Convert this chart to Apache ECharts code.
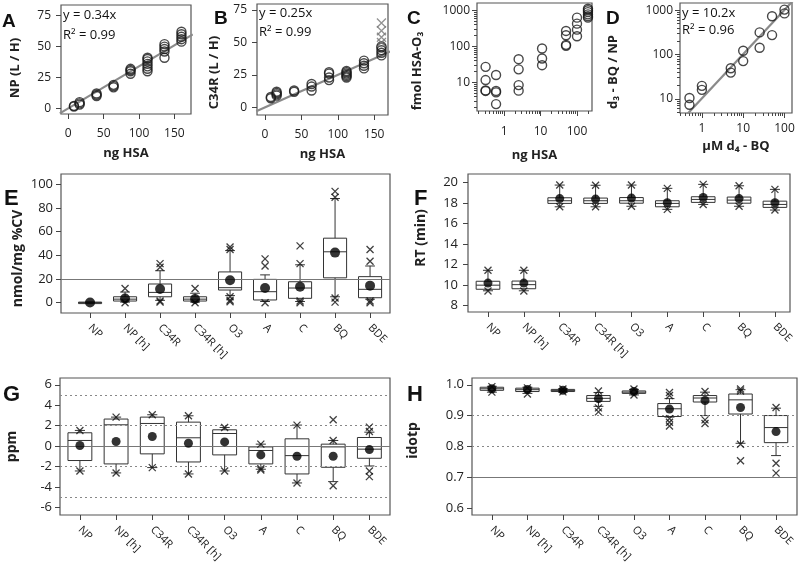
<!DOCTYPE html>
<html><head><meta charset="utf-8">
<script src="https://cdn.jsdelivr.net/npm/echarts@6/dist/echarts.min.js"></script>
<style>html,body{margin:0;padding:0;background:#fff}#c{width:800px;height:570px}</style>
</head><body><div id="c"></div>
<script>
// ---------- DATA ----------
// Panel A
const aX = [8, 16, 40, 64, 88, 112, 136, 160];
const aY = [[1.5, 2], [3, 4, 5], [10, 11, 12], [17, 18, 19], [28, 30, 31, 32], [30, 32, 34, 36, 38, 40, 41], [41, 46, 48, 50, 52], [54, 56, 58, 60, 62]];
const aSlope = 0.34, aR2 = 0.99;
const aFitX = [-12, 176];
const aXTicks = [0, 50, 100, 150], aYTicks = [0, 25, 50, 75];
// Panel B
const bX = [8, 16, 40, 64, 88, 112, 136, 160];
const bY = [[7, 8], [9, 10, 11, 12], [12, 13], [13, 16, 18], [21, 23, 26, 27], [23, 24, 25, 26, 27, 28], [30, 32, 34, 36], [40, 42, 44, 46, 47]];
const bOutX = [160, 160, 160, 160];
const bOutY = [65, 59, 54, 50];
const bSlope = 0.25, bR2 = 0.99;
const bFitX = [-12, 172];
const bXTicks = [0, 50, 100, 150], bYTicks = [0, 25, 50, 75];
// Panel C
const cX = [0.31, 0.6, 2.5, 11, 50, 100, 200];
const cY = [[27, 11.6, 6, 5.8], [16, 5.8, 5.3, 2.5], [44, 23, 8.4, 5.9], [87, 46, 30], [267, 203, 110, 103], [624, 426, 290, 190], [1100, 1000, 890, 770, 680, 624]];
const cXTicks = [1, 10, 100], cYTicks = [10, 100, 1000];
// Panel D
const dX = [0.5, 1, 5, 10, 25, 50, 100];
const dY = [[10.4, 7.3], [19.6, 15.9], [49, 39], [122, 71], [316, 142], [733, 275], [1035, 850]];
const dSlope = 10.2, dR2 = 0.96;
const dFitX = [0.3, 160];
const dXTicks = [1, 10, 100], dYTicks = [10, 100, 1000];
// Box panels
const cats = ['NP', 'NP [h]', 'C34R', 'C34R [h]', 'O3', 'A', 'C', 'BQ', 'BDE'];
// Panel E : nmol/mg %CV
const eLow  = [0, 0.5, 2, 0.5, 6, 1, 1, 5, 3];
const eQ1   = [0, 1.4, 5, 1.4, 10.7, 2.3, 3.7, 21, 4.2];
const eMed  = [0.1, 3, 8.7, 3, 12.7, 9.3, 12.4, 43, 11.3];
const eQ3   = [0.5, 5, 15.8, 5, 26, 19.7, 17.7, 54.5, 22];
const eHigh = [0.6, 9, 27, 8, 44, 23.5, 32, 88, 31];
const eMean = [0.2, 3.6, 11.5, 3.2, 19, 12.4, 13.5, 42.3, 14.4];
const eOut  = [[], [12, 0], [33, 30, 1.5, 0.5], [12, 0], [47, 45, 5, 2, 0.8], [37, 31, 0], [48, 33, 1.5, 0], [94, 89, 4, 0.5], [45, 35, 1.5, 0]];
const eRef  = [20];
const eYTicks = [0, 20, 40, 60, 80, 100];
// Panel F : RT (min)
const fLow  = [9.45, 9.45, 17.65, 17.65, 17.7, 17.4, 17.88, 17.7, 17.33];
const fQ1   = [9.6, 9.65, 17.98, 17.98, 18.0, 17.65, 18.08, 18.0, 17.59];
const fMed  = [10.0, 10.05, 18.24, 18.24, 18.24, 17.98, 18.37, 18.3, 17.88];
const fQ3   = [10.38, 10.4, 18.53, 18.5, 18.55, 18.24, 18.63, 18.6, 18.2];
const fHigh = [11.45, 11.45, 19.77, 19.75, 19.77, 19.45, 19.84, 19.7, 19.35];
const fMean = [10.2, 10.2, 18.45, 18.4, 18.5, 18.05, 18.56, 18.45, 18.04];
const fOut  = [[11.45, 9.43], [11.45, 9.43], [19.77, 17.65], [19.75, 17.65], [19.77, 17.7], [19.45, 17.4], [19.84, 17.88], [19.7, 17.7], [19.35, 17.33]];
const fYTicks = [8, 10, 12, 14, 16, 18, 20];
// Panel G : ppm
const gLow  = [-2.42, -2.61, -2.09, -2.71, -2.42, -2.25, -3.59, -3.46, -1.93];
const gQ1   = [-1.4, -1.73, -0.75, -1.54, -0.85, -1.73, -2.71, -2.06, -1.18];
const gMed  = [0.56, 2.09, 2.22, 0.82, 1.24, -0.42, -0.92, -0.07, -0.29];
const gQ3   = [1.31, 2.65, 2.84, 2.35, 1.6, -0.07, 0.72, 0.2, 0.85];
const gHigh = [1.54, 2.84, 3.07, 2.97, 1.83, 0.2, 2.06, 0.56, 1.37];
const gMean = [0.07, 0.46, 0.95, 0.29, 0.42, -0.85, -0.98, -0.98, -0.33];
const gOut  = [[1.54, -2.42], [2.84, -2.61], [3.07, -2.09], [2.97, -2.71], [1.83, -2.42], [0.2, -2.19, -2.32], [2.06, -3.59], [2.58, 0.56, -3.86], [1.86, 1.44, -2.42, -2.97]];
const gRefSolid = [0], gRefDotted = [5, 2, -2, -5];
const gYTicks = [-6, -4, -2, 0, 2, 4, 6];
// Panel H : idotp
const hLow  = [0.976, 0.972, 0.976, 0.93, 0.967, 0.895, 0.90, 0.81, 0.77];
const hQ1   = [0.982, 0.978, 0.978, 0.946, 0.972, 0.897, 0.944, 0.905, 0.812];
const hMed  = [0.987, 0.984, 0.981, 0.956, 0.976, 0.922, 0.957, 0.951, 0.861];
const hQ3   = [0.992, 0.989, 0.985, 0.965, 0.98, 0.939, 0.965, 0.97, 0.90];
const hHigh = [0.995, 0.992, 0.987, 0.975, 0.985, 0.955, 0.976, 0.984, 0.924];
const hMean = [0.987, 0.985, 0.982, 0.955, 0.978, 0.921, 0.949, 0.926, 0.848];
const hOut  = [[0.994, 0.976], [0.99, 0.97], [0.986, 0.977], [0.98, 0.925, 0.912], [0.986, 0.967], [0.975, 0.965, 0.89, 0.878, 0.866], [0.978, 0.886, 0.874], [0.986, 0.98, 0.807, 0.753], [0.926, 0.745, 0.713]];
const hRefSolid = [0.7], hRefDotted = [0.9, 0.8];
const hYTicks = [0.6, 0.7, 0.8, 0.9, 1.0];

// ---------- BUILD ----------
const FONT = 'Open Sans';
const TXT = '#222';
const catIdx = cats.map((c, i) => i);
const minorLog = (lo, hi) => { const r = []; for (let e = -2; e <= 4; e++) for (let m = 2; m <= 9; m++) { const v = m * Math.pow(10, e); if (v > lo && v < hi) r.push(v); } return r; };

const grids = [
  [61, 5, 191, 114], [257, 4, 388, 115], [477, 3, 592, 111], [680, 3, 792, 113],
  [61, 174, 390, 313], [468, 174, 790, 312], [60, 378, 390, 515], [472, 378, 797, 515]
].map(g => ({ left: g[0], top: g[1], width: g[2] - g[0], height: g[3] - g[1], show: true, borderColor: '#555', borderWidth: 1.2, backgroundColor: 'transparent' }));

function axis(gi, type, min, max, ticks, o) {
  o = o || {};
  return {
    type: type, gridIndex: gi, min: min, max: max, position: o.position,
    logBase: type === 'log' ? 10 : undefined,
    name: o.name || '', nameLocation: 'middle', nameGap: o.nameGap || 30,
    nameRotate: o.nameRotate,
    nameTextStyle: { fontFamily: FONT, fontWeight: 'bold', fontSize: o.nameSize || 13, color: TXT, padding: o.namePad || 0 },
    axisLine: { show: false, onZero: false },
    splitLine: { show: false },
    minorTick: { show: false },
    axisTick: { show: true, inside: false, length: o.tickLen || 5, customValues: ticks, lineStyle: { color: '#444', width: 1 } },
    axisLabel: {
      show: o.noLabel ? false : true, customValues: ticks, fontFamily: FONT, fontSize: o.fontSize || 12, color: TXT,
      margin: o.margin || 8, rotate: o.rotate || 0, formatter: o.fmt || (v => String(v))
    }
  };
}
const catFmt = v => cats[Math.round(v)];
const xAxes = [
  axis(0, 'value', -10.3, 173.5, aXTicks, { name: 'ng HSA', nameGap: 33, margin: 14 }),
  axis(1, 'value', -11, 169, bXTicks, { name: 'ng HSA', nameGap: 33, margin: 14 }),
  axis(2, 'log', 0.18, 258, cXTicks, { name: 'ng HSA', nameGap: 38, margin: 15, position: 'bottom' }),
  axis(3, 'log', 0.295, 152, dXTicks, { name: 'µM d₄ - BQ', nameGap: 27, margin: 10, position: 'bottom' }),
  axis(4, 'value', -0.83, 8.57, catIdx, { margin: 13, rotate: -45, fontSize: 11, fmt: catFmt }),
  axis(5, 'value', -0.557, 8.42, catIdx, { margin: 13, rotate: -45, fontSize: 11, fmt: catFmt }),
  axis(6, 'value', -0.55, 8.57, catIdx, { margin: 13, rotate: -45, fontSize: 11, fmt: catFmt }),
  axis(7, 'value', -0.56, 8.59, catIdx, { margin: 13, rotate: -45, fontSize: 11, fmt: catFmt }),
  axis(2, 'log', 0.18, 258, minorLog(0.18, 258), { noLabel: true, tickLen: 3, position: 'bottom' }),
  axis(3, 'log', 0.295, 152, minorLog(0.295, 152), { noLabel: true, tickLen: 3, position: 'bottom' })
];
const yAxes = [
  axis(0, 'value', -4.6, 83.7, aYTicks, { name: 'NP (L / H)', nameGap: 39, nameRotate: 90, margin: 10, namePad: [0, 17, 0, 0] }),
  axis(1, 'value', -5.9, 79.6, bYTicks, { name: 'C34R (L / H)', nameGap: 36, nameRotate: 90, margin: 10, namePad: [0, 26, 0, 0] }),
  axis(2, 'log', 1.61, 1590, cYTicks, { name: 'fmol HSA-O₃', nameGap: 53, nameRotate: 90, margin: 7, position: 'left', namePad: [0, 28, 0, 0] }),
  axis(3, 'log', 4.77, 1460, dYTicks, { name: 'd₃ - BQ / NP', nameGap: 60, nameRotate: 90, margin: 7, position: 'left', namePad: [0, 28, 0, 0] }),
  axis(4, 'value', -8.7, 108.7, eYTicks, { name: 'nmol/mg %CV', nameGap: 36, nameRotate: 90, nameSize: 14, fontSize: 13, margin: 8, namePad: [0, 30, 0, 0] }),
  axis(5, 'value', 7.38, 20.85, fYTicks, { name: 'RT (min)', nameGap: 40, nameRotate: 90, nameSize: 14, fontSize: 13, margin: 10, namePad: [0, 0, 0, 10] }),
  axis(6, 'value', -6.72, 6.66, gYTicks, { name: 'ppm', nameGap: 41, nameRotate: 90, nameSize: 14, fontSize: 13, margin: 8 }),
  axis(7, 'value', 0.577, 1.022, hYTicks, { name: 'idotp', nameGap: 52, nameRotate: 90, nameSize: 14, fontSize: 13, margin: 8, namePad: [0, 0, 0, 12], fmt: v => Number(v).toFixed(1) }),
  axis(2, 'log', 1.61, 1590, minorLog(1.61, 1590), { noLabel: true, tickLen: 3, position: 'left' }),
  axis(3, 'log', 4.77, 1460, minorLog(4.77, 1460), { noLabel: true, tickLen: 3, position: 'left' })
];

const XPATH = 'path://M0,0L10,10M10,0L0,10';
const pairs = (xs, ys) => xs.flatMap((x, i) => ys[i].map(y => [x, y]));
function circles(gi, data) {
  return { type: 'scatter', xAxisIndex: gi, yAxisIndex: gi, data: data, symbol: 'circle', symbolSize: 9, z: 4,
    itemStyle: { color: 'rgba(0,0,0,0)', borderColor: '#1a1a1a', borderWidth: 1.4 }, silent: true };
}
function fitLine(gi, xs, slope) {
  return { type: 'line', xAxisIndex: gi, yAxisIndex: gi, data: xs.map(x => [x, slope * x]), showSymbol: false, symbol: 'none',
    clip: true, z: 3, lineStyle: { color: '#8a8a8a', width: 2.2 }, silent: true };
}
function boxRender(params, api) {
  const x = api.value(0);
  const c = v => api.coord([x, v]);
  const pLo = c(api.value(1)), pQ1 = c(api.value(2)), pMed = c(api.value(3)), pQ3 = c(api.value(4)), pHi = c(api.value(5));
  const w = api.size([0.66, 0])[0];
  const cw = api.size([0.28, 0])[0];
  const cx = pMed[0];
  const st = { stroke: '#333', lineWidth: 1, fill: null };
  return { type: 'group', children: [
    { type: 'line', shape: { x1: cx, y1: pHi[1], x2: cx, y2: pQ3[1] }, style: st },
    { type: 'line', shape: { x1: cx, y1: pQ1[1], x2: cx, y2: pLo[1] }, style: st },
    { type: 'line', shape: { x1: cx - cw / 2, y1: pHi[1], x2: cx + cw / 2, y2: pHi[1] }, style: st },
    { type: 'line', shape: { x1: cx - cw / 2, y1: pLo[1], x2: cx + cw / 2, y2: pLo[1] }, style: st },
    { type: 'rect', shape: { x: cx - w / 2, y: pQ3[1], width: w, height: Math.max(pQ1[1] - pQ3[1], 1.5) }, style: { stroke: '#333', lineWidth: 1, fill: 'rgba(255,255,255,0)' } },
    { type: 'line', shape: { x1: cx - w / 2, y1: pMed[1], x2: cx + w / 2, y2: pMed[1] }, style: st }
  ] };
}
function boxPanel(gi, lo, q1, med, q3, hi, mean, out, refSolid, refDotted) {
  const ml = [];
  (refSolid || []).forEach(v => ml.push({ yAxis: v, lineStyle: { type: 'solid', color: '#777', width: 1.2 } }));
  (refDotted || []).forEach(v => ml.push({ yAxis: v, lineStyle: { type: [2, 3], color: '#888', width: 1.2 } }));
  return [
    { type: 'custom', xAxisIndex: gi, yAxisIndex: gi, renderItem: boxRender, z: 3, silent: true,
      encode: { x: 0, y: [1, 2, 3, 4, 5] },
      data: cats.map((c, i) => [i, lo[i], q1[i], med[i], q3[i], hi[i]]),
      markLine: { silent: true, symbol: 'none', label: { show: false }, animation: false, data: ml } },
    { type: 'scatter', xAxisIndex: gi, yAxisIndex: gi, z: 5, silent: true, symbol: XPATH, symbolSize: 7,
      itemStyle: { color: 'rgba(0,0,0,0)', borderColor: '#111', borderWidth: 1.3 },
      data: out.flatMap((arr, i) => arr.map(v => [i, v])) },
    { type: 'scatter', xAxisIndex: gi, yAxisIndex: gi, z: 6, silent: true, symbol: 'circle', symbolSize: gi === 4 ? 10 : 9,
      itemStyle: { color: '#000' }, data: mean.map((v, i) => [i, v]) }
  ];
}

const series = [
  fitLine(0, aFitX, aSlope), circles(0, pairs(aX, aY)),
  fitLine(1, bFitX, bSlope), circles(1, pairs(bX, bY)),
  { type: 'scatter', xAxisIndex: 1, yAxisIndex: 1, z: 4, silent: true, symbol: XPATH, symbolSize: 9,
    itemStyle: { color: 'rgba(0,0,0,0)', borderColor: '#777', borderWidth: 1.3 }, data: bOutX.map((x, i) => [x, bOutY[i]]) },
  circles(2, pairs(cX, cY)),
  fitLine(3, dFitX, dSlope), circles(3, pairs(dX, dY))
].concat(
  boxPanel(4, eLow, eQ1, eMed, eQ3, eHigh, eMean, eOut, eRef, []),
  boxPanel(5, fLow, fQ1, fMed, fQ3, fHigh, fMean, fOut, [], []),
  boxPanel(6, gLow, gQ1, gMed, gQ3, gHigh, gMean, gOut, gRefSolid, gRefDotted),
  boxPanel(7, hLow, hQ1, hMed, hQ3, hHigh, hMean, hOut, hRefSolid, hRefDotted)
);

const txt = (x, y, text, size, bold, align, family) => ({ type: 'text', x: x, y: y, silent: true, z: 10,
  style: { text: text, fontSize: size, fontWeight: bold ? 'bold' : 'normal', fontFamily: family || FONT, fill: '#111', align: align || 'left', verticalAlign: 'middle' } });
const LET = 'Liberation Sans';
const graphic = [
  txt(2, 22, 'A', 19, true, 'left', LET), txt(214, 19, 'B', 19, true, 'left', LET), txt(407, 19, 'C', 19, true, 'left', LET), txt(606, 19, 'D', 19, true, 'left', LET),
  txt(4, 199, 'E', 22, true, 'left', LET), txt(414, 199, 'F', 22, true, 'left', LET), txt(3, 395, 'G', 22, true, 'left', LET), txt(407, 395, 'H', 22, true, 'left', LET),
  txt(63, 15.5, 'y = ' + aSlope + 'x', 13), txt(63, 35, 'R² = ' + aR2.toFixed(2), 13),
  txt(259, 13.5, 'y = ' + bSlope + 'x', 13), txt(259, 32.5, 'R² = ' + bR2.toFixed(2), 13),
  txt(682, 13, 'y = ' + dSlope + 'x', 13), txt(682, 30.5, 'R² = ' + dR2.toFixed(2), 13)
];

const chart = echarts.init(document.getElementById('c'), null, { renderer: 'canvas' });
chart.setOption({ animation: false, backgroundColor: '#fff', grid: grids, xAxis: xAxes, yAxis: yAxes, series: series, graphic: graphic });
</script></body></html>
